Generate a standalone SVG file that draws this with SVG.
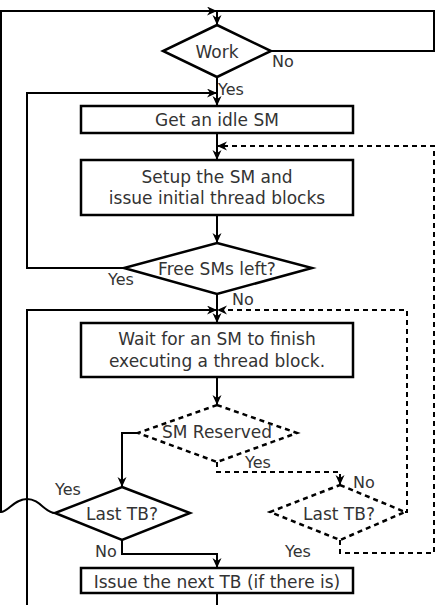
<svg xmlns="http://www.w3.org/2000/svg" width="435" height="605" viewBox="0 0 435 605">
<style>
.box{fill:#fff;stroke:#000;stroke-width:2.5}
.dia{fill:#fff;stroke:#000;stroke-width:2.5}
.dd{fill:#fff;stroke:#000;stroke-width:2.5;stroke-dasharray:5 4}
.c{fill:none;stroke:#000;stroke-width:2}
.cd{fill:none;stroke:#000;stroke-width:2;stroke-dasharray:5 4}
text{font-family:"DejaVu Sans",sans-serif;font-size:17px;fill:#333;text-anchor:middle}
.lb{font-size:16px;text-anchor:start}
</style>
<defs>
<marker id="ah" markerUnits="userSpaceOnUse" markerWidth="11" markerHeight="10" refX="10" refY="4.5" orient="auto">
<path d="M0,0 L10,4.5 L0,9 L3,4.5 z" fill="#000"/>
</marker>
</defs>
<rect width="435" height="605" fill="#fff"/>
<g id="connectors">
<path class="c" d="M271,51 L434,51 L434,11 L217,11"/>
<path class="c" d="M55,513 C45,513 40,499 27,499 C14,499 8,512 1,512 L1,11 L217,11" marker-end="url(#ah)"/>
<path class="c" d="M217,11 L217,25" marker-end="url(#ah)"/>
<path class="c" d="M217,77 L217,106" marker-end="url(#ah)"/>
<path class="c" d="M124,268 L27,268 L27,93 L217,93" marker-end="url(#ah)"/>
<path class="c" d="M217,133 L217,160" marker-end="url(#ah)"/>
<path class="c" d="M217,215 L217,243" marker-end="url(#ah)"/>
<path class="c" d="M217,294 L217,323" marker-end="url(#ah)"/>
<path class="c" d="M27,605 L27,310 L217,310" marker-end="url(#ah)"/>
<path class="cd" d="M405,512 L407,512 L407,310 L217,310" marker-end="url(#ah)"/>
<path class="c" d="M217,377 L217,405" marker-end="url(#ah)"/>
<path class="cd" d="M217,462 L217,472 L340,472 L340,485" marker-end="url(#ah)"/>
<path class="c" d="M138,433 L122,433 L122,487" marker-end="url(#ah)"/>
<path class="c" d="M122,540 L122,554 L217,554 L217,568" marker-end="url(#ah)"/>
<path class="cd" d="M340,540 L340,553 L434,553 L434,146 L217,146" marker-end="url(#ah)"/>
<path class="c" d="M217,593 L217,605"/>
</g>
<g id="work">
<polygon class="dia" points="217,25 271,51 217,77 163,51"/>
<text x="217" y="58">Work</text>
</g>
<g id="getidle">
<rect class="box" x="81" y="106" width="272" height="27"/>
<text x="217" y="126">Get an idle SM</text>
</g>
<g id="setup">
<rect class="box" x="81" y="160" width="272" height="55"/>
<text x="217" y="183">Setup the SM and</text>
<text x="217" y="204">issue initial thread blocks</text>
</g>
<g id="free">
<polygon class="dia" points="217,243 312,268 217,294 124,268"/>
<text x="217" y="275">Free SMs left?</text>
</g>
<g id="wait">
<rect class="box" x="81" y="323" width="272" height="54"/>
<text x="217" y="345">Wait for an SM to finish</text>
<text x="217" y="367">executing a thread block.</text>
</g>
<g id="smreserved">
<polygon class="dd" points="217,405 297,433 217,462 138,433"/>
<text x="217" y="438">SM Reserved</text>
</g>
<g id="lasttb1">
<polygon class="dia" points="122,487 190,513 122,540 55,513"/>
<text x="122" y="520">Last TB?</text>
</g>
<g id="lasttb2">
<polygon class="dd" points="340,485 405,512 340,540 270,512"/>
<text x="339" y="520">Last TB?</text>
</g>
<g id="issue">
<rect class="box" x="81" y="568" width="272" height="25"/>
<text x="217" y="588">Issue the next TB (if there is)</text>
</g>
<g id="labels">
<text class="lb" x="272" y="67">No</text>
<text class="lb" x="218" y="95">Yes</text>
<text class="lb" x="108" y="285">Yes</text>
<text class="lb" x="232" y="305">No</text>
<text class="lb" x="245" y="468">Yes</text>
<text class="lb" x="353" y="488">No</text>
<text class="lb" x="55" y="495">Yes</text>
<text class="lb" x="95" y="557">No</text>
<text class="lb" x="285" y="557">Yes</text>
</g>
</svg>
